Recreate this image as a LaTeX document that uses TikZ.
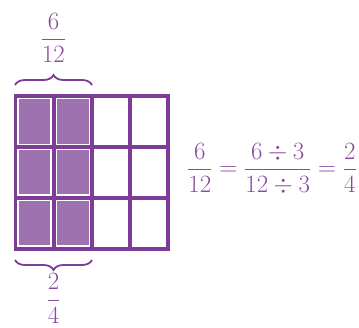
\documentclass[tikz,border=0pt]{standalone}
\usepackage{amsmath}
\usetikzlibrary{decorations.pathreplacing}
\definecolor{gridc}{HTML}{7D3C98}
\definecolor{fillc}{HTML}{9E72AF}
\definecolor{textc}{HTML}{8A4A9C}
\tikzset{
  gridline/.style={draw=gridc, line width=3.7pt},
  shade/.style={fill=fillc},
  bracec/.style={draw=gridc, line width=1.8pt, decorate, decoration={brace, amplitude=10pt}},
  lbl/.style={text=textc, font=\fontsize{24}{28}\selectfont, inner sep=0pt},
}
\begin{document}
\begin{tikzpicture}[x=1pt,y=-1pt]
\useasboundingbox (0,0) rectangle (359,327);
% shaded cells
\foreach \c in {0,1}{
  \foreach \r in {0,1,2}{
    \fill[shade] ({15.5+38.2*\c+3.4},{96+50.9*\r+3.4}) rectangle ({15.5+38.2*(\c+1)-3.4},{96+50.9*(\r+1)-3.4});
  }
}
% grid
\foreach \c in {0,...,4}{
  \draw[gridline] ({15.5+38.2*\c},96) -- ({15.5+38.2*\c},248.7);
}
\foreach \r in {0,...,3}{
  \draw[gridline] (13.65,{96+50.9*\r}) -- (170.15,{96+50.9*\r});
}
% braces
\coordinate (tl) at (15,85);
\coordinate (tr) at (92,85);
\coordinate (bl) at (15,260);
\coordinate (br) at (92,260);
\draw[bracec] (tl) -- (tr);
\draw[bracec] (br) -- (bl);
% labels
\node[lbl] (top) at (53.5,38) {$\dfrac{6}{12}$};
\node[lbl] (bot) at (53.5,298.5) {$\dfrac{2}{4}$};
\node[lbl] (eq) at (272,169) {$\dfrac{6}{12}=\dfrac{6\div 3}{12\div 3}=\dfrac{2}{4}$};
\end{tikzpicture}
\end{document}
